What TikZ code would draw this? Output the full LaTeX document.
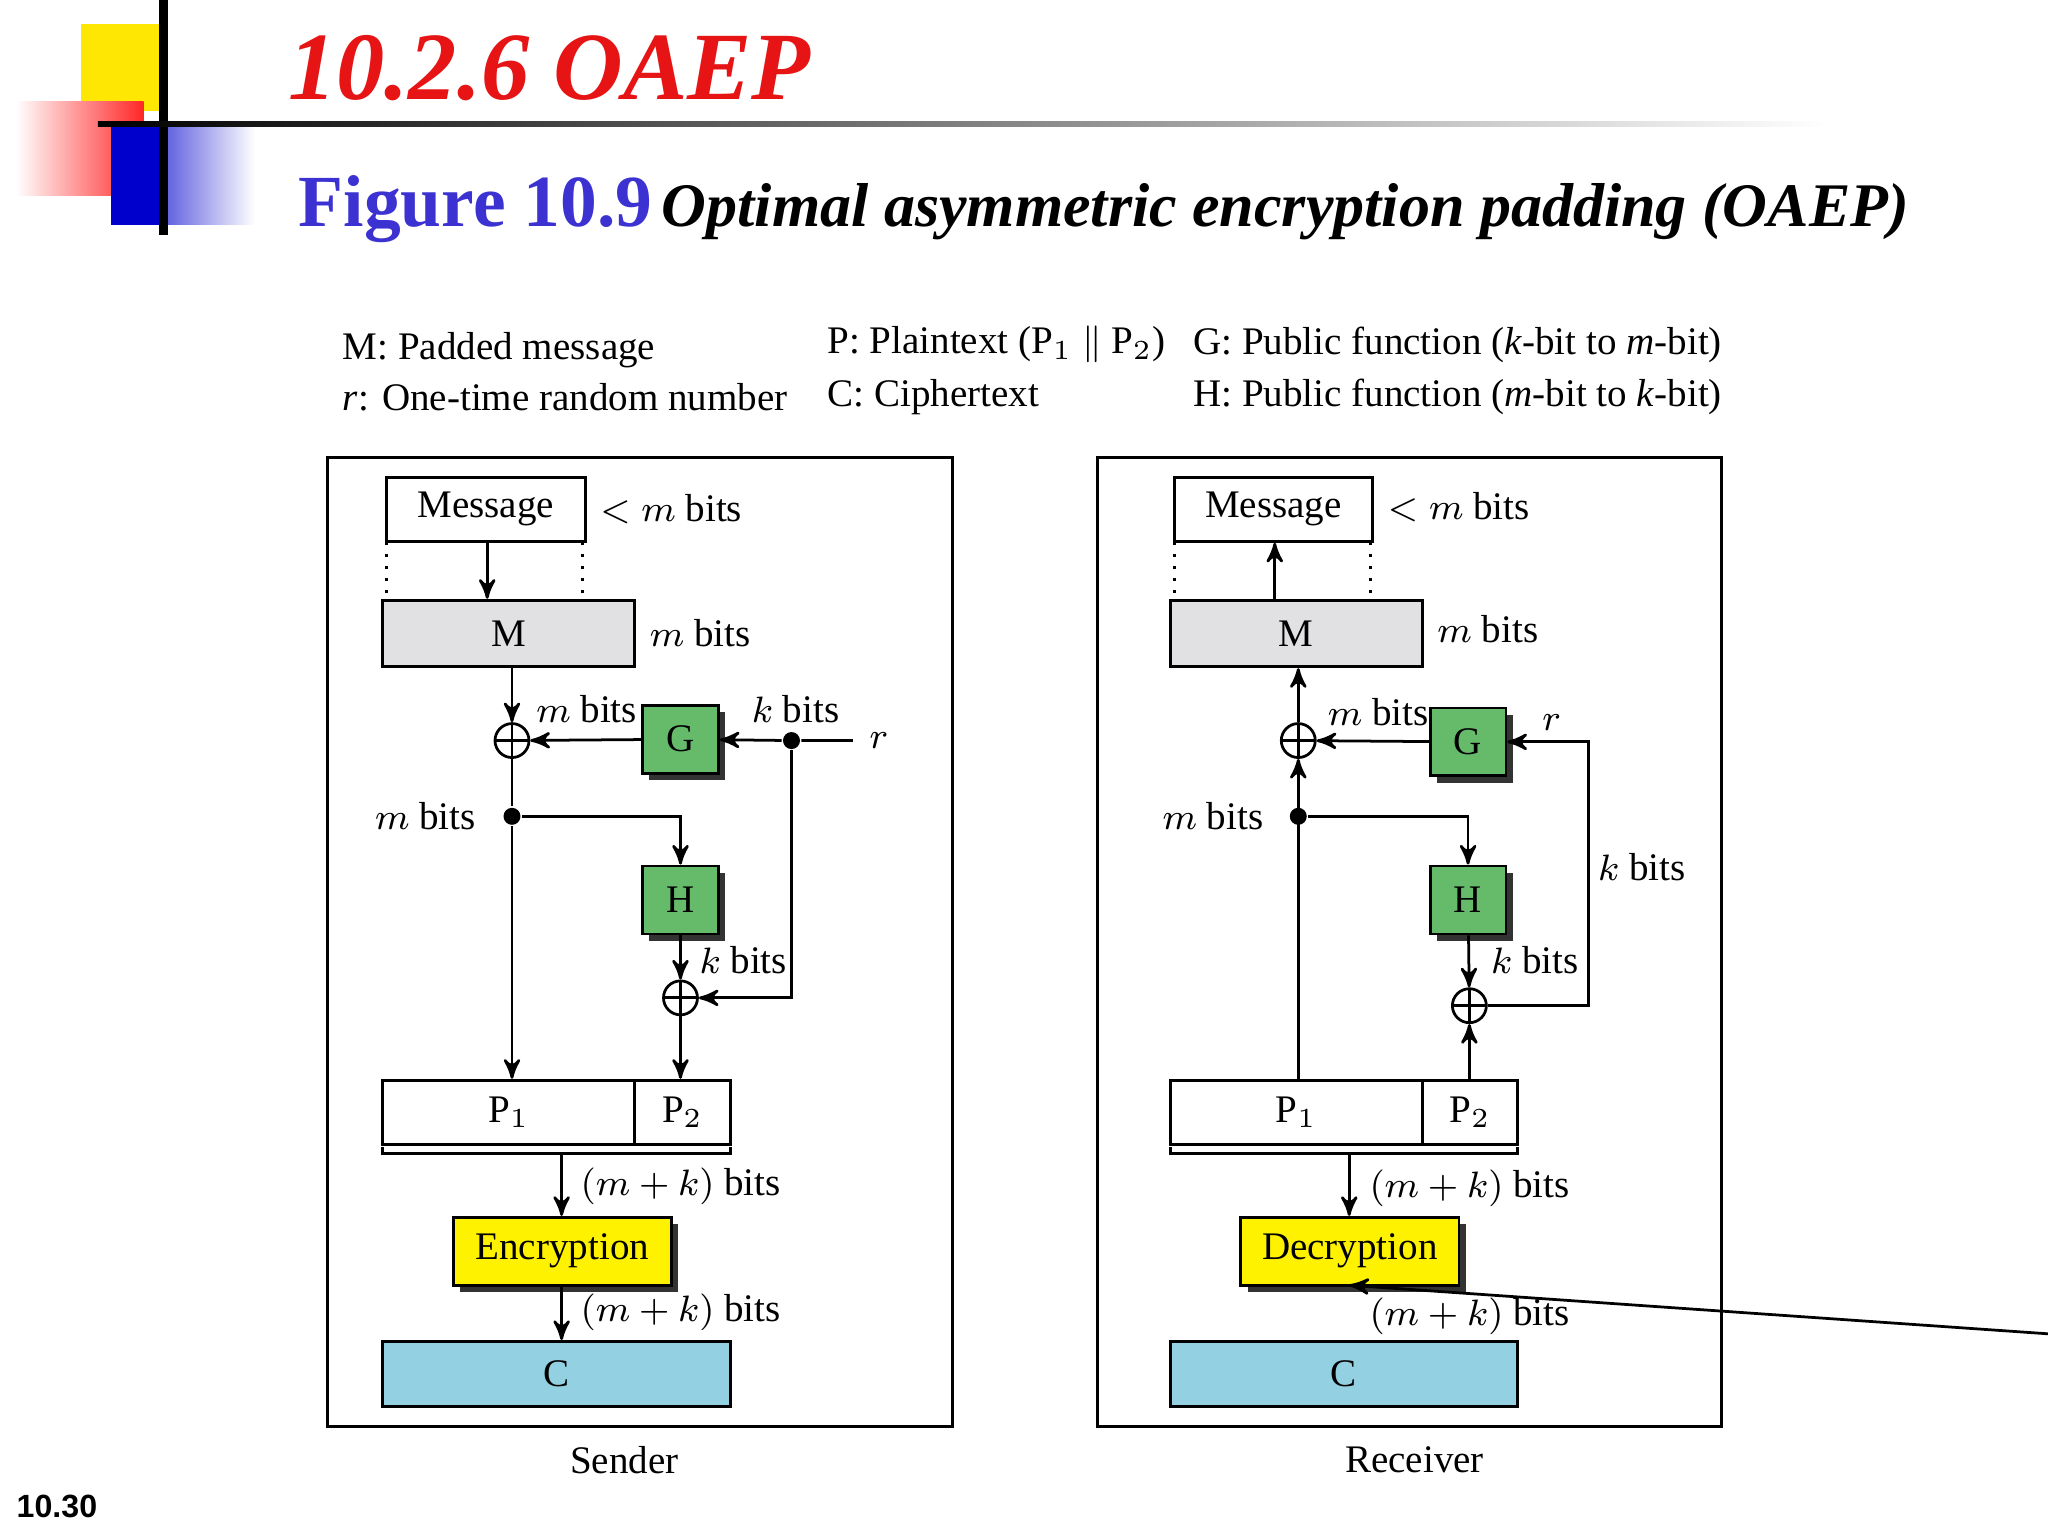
\documentclass[tikz,border=0pt]{standalone}
\usepackage{fontspec}
\setmainfont{Liberation Serif}
\newfontfamily\sansf{Liberation Sans}
\usepackage{amsmath}
\usetikzlibrary{arrows,shadows}

\definecolor{gbox}{RGB}{102,187,106}
\definecolor{cbox}{RGB}{146,208,226}
\definecolor{mbox}{RGB}{225,225,228}
\definecolor{titlered}{RGB}{230,20,20}
\definecolor{figblue}{RGB}{60,50,210}

\tikzset{
    blk/.style = {rectangle, draw, inner sep=0pt, line width=0.6pt},
    fn/.style = {blk, fill=gbox, minimum width=0.58cm, minimum height=0.52cm,
                 drop shadow={shadow xshift=1.5pt, shadow yshift=-1.5pt, opacity=1, fill=black!80}},
    cr/.style = {blk, fill=yellow, minimum width=1.67cm, minimum height=0.52cm,
                 drop shadow={shadow xshift=1.5pt, shadow yshift=-1.5pt, opacity=1, fill=black!80}},
    xo/.style = {circle, draw, inner sep=0pt, minimum size=0.26cm, line width=0.6pt,
                 path picture={\draw (path picture bounding box.north) -- (path picture bounding box.south)
                               (path picture bounding box.west) -- (path picture bounding box.east);}},
    dot/.style = {circle, fill, inner sep=0pt, minimum size=0.13cm},
    lbl/.style = {anchor=west, inner sep=1pt}
}

\begin{document}
\begin{tikzpicture}[x=0.01cm, y=-0.01cm, >=stealth', line width=0.6pt,
                    font=\fontsize{8.5}{10}\selectfont]
    \useasboundingbox (0,0) rectangle (1568,1176);

    % slide header
    \fill[yellow!90!orange] (62,18) rectangle (125,85);
    \shade[left color=white, right color=red!85] (12,78) rectangle (110,150);
    \shade[left color=blue!80!black, right color=white] (85,95) rectangle (195,172);
    \fill[blue!80!black] (85,95) rectangle (125,172);
    \draw[line width=2pt] (125,0) -- (125,180);
    \shade[left color=black, right color=white] (75,93) rectangle (1400,97);
    \node[anchor=west, text=titlered, font=\fontsize{21}{24}\selectfont\bfseries\itshape] (title) at (208,52) {10.2.6 OAEP};
    \node[anchor=west, text=figblue, font=\fontsize{16}{19}\selectfont\bfseries] (fig) at (216,160) {Figure 10.9};
    \node[anchor=west, font=\fontsize{13.5}{16}\selectfont\bfseries\itshape] (cap) at (494,162) {Optimal asymmetric encryption padding (OAEP)};
    \node[anchor=west, font=\sansf\fontsize{7}{8}\selectfont\bfseries] (pg) at (0,1153) {10.30};

    % legend
    \node[lbl] (l1) at (258,268) {M: Padded message};
    \node[lbl] (l2) at (258,304) {\textit{r}: One-time random number};
    \node[lbl] (l3) at (629,264) {P: Plaintext (P$_1$ $\|$ P$_2$)};
    \node[lbl] (l4) at (629,304) {C: Ciphertext};
    \node[lbl] (l5) at (909,264) {G: Public function (\textit{k}-bit to \textit{m}-bit)};
    \node[lbl] (l6) at (909,304) {H: Public function (\textit{m}-bit to \textit{k}-bit)};

    % sender
    \draw (251,350) rectangle (729,1092);
    \node (snd) at (478,1118) {Sender};

    \node[blk, minimum width=1.52cm, minimum height=0.49cm] (msg) at (372,390) {Message};
    \node[lbl] at (455,390) {$<m$ bits};
    \draw[dotted] (296,415) -- (296,455) (446,415) -- (446,455);
    \node[blk, fill=mbox, minimum width=1.93cm, minimum height=0.51cm] (M) at (389.5,485) {M};
    \node[lbl] at (493,485) {$m$ bits};
    \node[xo] (x1) at (392,567) {};
    \node[fn] (G) at (521,566) {G};
    \node[dot] (d1) at (606,567) {};
    \node (r) at (673,567) {$r$};
    \node[dot] (d2) at (392,625) {};
    \node[fn] (H) at (521,689) {H};
    \node[xo] (x2) at (521,764) {};
    \node[blk, minimum width=1.93cm, minimum height=0.49cm] (P1) at (389.5,851.5) {P$_1$};
    \node[blk, minimum width=0.73cm, minimum height=0.49cm] (P2) at (522.5,851.5) {P$_2$};
    \node[cr] (enc) at (430.5,958) {Encryption};
    \node[blk, fill=cbox, minimum width=2.66cm, minimum height=0.5cm] (C) at (426,1052) {C};
    \coordinate (br) at (430,883);

    \draw[->] (msg.south -| 373,0) -- (M.north -| 373,0);
    \draw[->] (M.south -| x1) -- (x1);
    \draw[->] (G) -- (x1);
    \draw[->] (r) -- (d1) -- (G);
    \draw (x1) -- (d2);
    \draw[->] (d2) -- (P1.north -| d2);
    \draw[->] (d2) -| (H);
    \draw[->] (H) -- (x2);
    \draw[->] (d1) |- (x2);
    \draw[->] (x2) -- (P2.north -| x2);
    \draw (293,878) -- (293,883) -- (559,883) -- (559,878);
    \draw[->] (br) -- (enc.north -| br);
    \draw[->] (enc.south -| br) -- (C.north -| br);
    \node[lbl] at (406,543) {$m$ bits};
    \node[lbl] at (571,543) {$k$ bits};
    \node[anchor=east] at (377,625) {$m$ bits};
    \node[lbl] at (531,735) {$k$ bits};
    \node[lbl] at (440,908) {$(m+k)$ bits};
    \node[lbl] at (440,1005) {$(m+k)$ bits};

    % receiver
    \draw (840,350) rectangle (1318,1092);
    \node (rcv) at (1083,1118) {Receiver};

    \node[blk, minimum width=1.52cm, minimum height=0.49cm] (msgR) at (975,390) {Message};
    \node[lbl] at (1058,388) {$<m$ bits};
    \draw[dotted] (899,415) -- (899,455) (1049,415) -- (1049,455);
    \node[blk, fill=mbox, minimum width=1.93cm, minimum height=0.51cm] (MR) at (992.5,485) {M};
    \node[lbl] at (1096,482) {$m$ bits};
    \node[xo] (x1R) at (994,567) {};
    \node[fn] (GR) at (1124,568) {G};
    \node[dot] (d2R) at (994,625) {};
    \node[fn] (HR) at (1124,689) {H};
    \node[xo] (x2R) at (1125,770) {};
    \node[blk, minimum width=1.93cm, minimum height=0.49cm] (P1R) at (992.5,851.5) {P$_1$};
    \node[blk, minimum width=0.73cm, minimum height=0.49cm] (P2R) at (1125.5,851.5) {P$_2$};
    \node[cr] (dec) at (1033.5,958) {Decryption};
    \node[blk, fill=cbox, minimum width=2.66cm, minimum height=0.5cm] (CR) at (1029,1052) {C};
    \coordinate (brR) at (1033,883);
    \coordinate (cnr) at (1216,770);

    \draw[->] (MR.north -| 976,0) -- (msgR.south -| 976,0);
    \draw[->] (x1R) -- (MR.south -| x1R);
    \draw[->] (GR) -- (x1R);
    \draw[->] (P1R.north -| d2R) -- (x1R);
    \draw[->] (d2R) -| (HR);
    \draw[->] (HR) -- (x2R);
    \draw[->] (P2R.north -| x2R) -- (x2R);
    \draw[->] (x2R) -- (cnr) |- (GR);
    \draw (896,878) -- (896,883) -- (1162,883) -- (1162,878);
    \draw[->] (brR) -- (dec.north -| brR) coordinate (t1);
    \draw[->] (C.north -| 1033,0) ++(603,0) -- (1033,984);
    \node[lbl] at (1012,545) {$m$ bits};
    \node at (1188,553) {$r$};
    \node[lbl] at (1219,664) {$k$ bits};
    \node[anchor=east] at (980,625) {$m$ bits};
    \node[lbl] at (1137,735) {$k$ bits};
    \node[lbl] at (1044,910) {$(m+k)$ bits};
    \node[lbl] at (1044,1008) {$(m+k)$ bits};
\end{tikzpicture}
\end{document}
